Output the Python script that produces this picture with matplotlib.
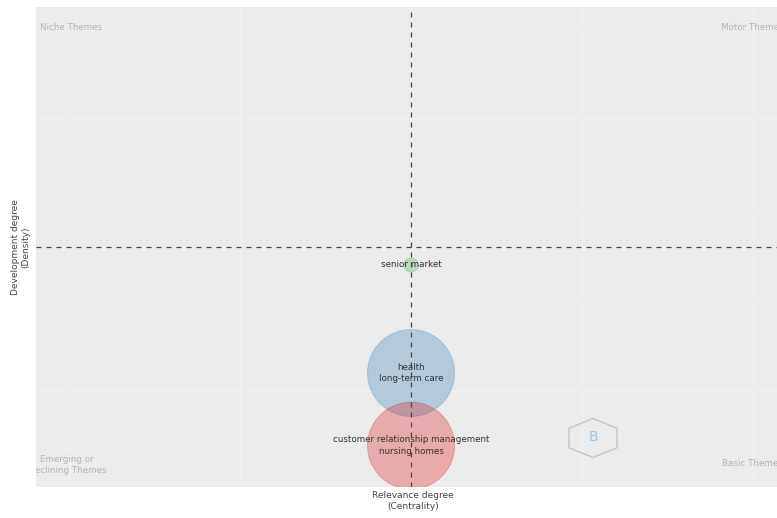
import numpy as np
import matplotlib.pyplot as plt
from matplotlib.patches import Polygon

# thematic map clusters
labels = ['senior market',
          'health\nlong-term care',
          'customer relationship management\nnursing homes']
centrality = [2.0, 2.0, 2.0]
density = [2.39, 1.20, 0.40]
freq = [1, 38, 38]
colors = ['#4DAF4A', '#377EB8', '#E41A1C']

# reference lines (mean centrality / density)
x_mid = 2.0
y_mid = 2.59

plt.rcParams['font.family'] = ['DejaVu Sans']

fig = plt.figure(figsize=(7.77, 5.18), dpi=100)
W, H = 777, 518
ax = fig.add_axes([36 / W, (H - 487) / H, (790 - 36) / W, 480 / H])
ax.set_facecolor('#ebebeb')
for s in ax.spines.values():
    s.set_visible(False)

ax.set_xlim(-0.193, 4.216)
ax.set_ylim(-0.055, 5.23)
ax.set_xticks(np.arange(0, 5))
ax.set_yticks(np.arange(0, 6))
ax.tick_params(length=0, labelbottom=False, labelleft=False)
ax.grid(True, color='#f3f3f3', linewidth=0.5)
ax.set_axisbelow(True)

ax.axvline(x_mid, color='#444444', lw=0.9, ls=(0, (4, 4)), zorder=3)
ax.axhline(y_mid, color='#444444', lw=0.9, ls=(0, (4, 4)), zorder=3)

sizes = np.array(freq) * 103.0
for x, y, s, c in zip(centrality, density, sizes, colors):
    ax.scatter(x, y, s=s, color=c, alpha=0.3, edgecolors='none', zorder=2)
    ax.scatter(x, y, s=s, facecolors='none', edgecolors=c, alpha=0.3,
               linewidths=0.7, zorder=2)

for x, y, t in zip(centrality, density, labels):
    ax.text(x, y, t, ha='center', va='center', fontsize=6.3,
            color='#333333', linespacing=1.35, zorder=4)

qcol = '#b3b3b3'
ax.text(-0.17, 5.0, 'Niche Themes', ha='left', va='center',
        fontsize=6.3, color=qcol, clip_on=True)
ax.text(4.18, 5.0, 'Motor Themes', ha='right', va='center',
        fontsize=6.3, color=qcol, clip_on=True)
ax.text(-0.01, 0.19, 'Emerging or\nDeclining Themes', ha='center', va='center',
        fontsize=6.3, color=qcol, linespacing=1.3, clip_on=True)
ax.text(4.175, 0.2, 'Basic Themes', ha='right', va='center',
        fontsize=6.3, color=qcol, clip_on=True)

ax.set_xlabel('Relevance degree\n(Centrality)', fontsize=6.5, color='#444444',
              labelpad=3, linespacing=1.25)
ax.set_ylabel('Development degree\n(Density)', fontsize=6.5, color='#444444',
              labelpad=4, linespacing=1.25)

# watermark logo (hexagon in inches from the figure's lower left)
cx, cy, hw, hh = 5.93, 5.18 - 4.38, 0.24, 0.195
hex_pts = [(cx, cy + hh), (cx + hw, cy + hh / 2), (cx + hw, cy - hh / 2),
           (cx, cy - hh), (cx - hw, cy - hh / 2), (cx - hw, cy + hh / 2)]
hexa = Polygon(hex_pts, closed=True, facecolor='none',
               edgecolor='#c4c4c4', lw=1.0, transform=fig.dpi_scale_trans)
fig.patches.append(hexa)
fig.text(593 / W, 1 - 437 / H, 'B', ha='center', va='center', fontsize=10,
         color='#98c6ea')

fig.savefig('out.png', dpi=100)
